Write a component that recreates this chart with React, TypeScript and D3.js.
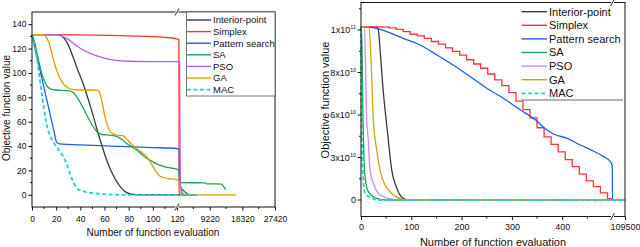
import React, { useEffect, useRef } from 'react';
import * as d3 from 'd3';

const seriesNames = ['Interior-point', 'Simplex', 'Pattern search', 'SA', 'PSO', 'GA', 'MAC'];

// left panel: [number of evaluations, objective value]
const leftInterior = [[0,131.5],[22,131.5],[26,129],[30,123],[34,113],[38,102],[42,92],[46,80],[50,67],[54,53],[58,40],[62,28],[66,18.5],[70,11],[74,5.5],[78,2],[83,0.3],[90,0],[120,0],[5700,0]];
const leftSimplex = [[0,131.5],[40,131.2],[80,130.4],[110,129.2],[120,128],[650,127.3],[720,2],[1000,0.4],[5700,0]];
const leftPattern = [[0,131.5],[3,118],[6,105],[9,92],[12,79],[15,66],[18,53],[20.5,43],[23,41.8],[40,41],[60,40.2],[80,39.5],[100,38.8],[120,38],[700,37],[900,8],[1300,5.5],[2300,2.5],[3600,0],[5700,0]];
const leftSA = [[0,131.5],[2,126],[4,117],[6,108],[8,100],[10,94],[12,90],[15,87],[20,86],[30,85.5],[34,84],[38,79],[42,72],[46,64],[50,57],[54,51.5],[58,49.5],[64,49],[70,48],[75,45],[80,41],[85,38],[90,34],[95,30],[100,27],[105,24.5],[110,23],[115,22],[120,21],[600,19.5],[800,10],[8000,9.8],[8300,9],[12500,8.8],[12900,7.5],[13700,4.2]];
const leftPSO = [[0,131.5],[20,131.5],[24,130.5],[30,127.5],[36,123],[42,119],[48,116],[55,113.5],[62,111.5],[70,110.3],[80,109.6],[100,109.3],[120,109.2],[850,109],[950,50],[1100,8],[1600,1.5],[2600,0],[5700,0]];
const leftGA = [[0,131.5],[10,131.5],[12,129],[14,125],[16,118],[18,110],[22,98],[26,91],[29,88.5],[33,86.5],[40,86],[50,86],[55,85.5],[56,84],[58,76],[60,66],[62,58],[64,53],[67,50],[70,49],[75,48.5],[79,45],[84,40],[88,37],[92,34],[96,30],[99,25],[102,20],[105,16],[109,14],[115,13],[120,12.5],[700,11],[1000,2],[2000,0.3],[3000,0],[16600,0]];
const leftMAC = [[0,131.5],[1,128],[2.5,121],[4,112],[5.5,102],[7,91],[8.5,80],[10,70],[11.5,61],[13,54],[15,48.5],[19,41],[22,37],[26,31],[28,27],[30,22],[32,16],[34,11],[36,7],[38,4.5],[42,3],[50,1.5],[60,0.6],[75,0],[120,0],[6200,0]];

const leftXTicks = [0, 20, 40, 60, 80, 100, 120, 9220, 18320, 27420];
const leftXMinor = [10, 30, 50, 70, 90, 110, 4670, 13770, 22870];
const leftYTicks = [0, 20, 40, 60, 80, 100, 120, 140];
const leftYMinor = [10, 30, 50, 70, 90, 110, 130];

// right panel
const rightInterior = [[0,1.015e11],[31,1.015e11],[34.5,1.0e11],[38,9.06e10],[44,7.18e10],[50,5.65e10],[54.3,4.24e10],[61,2.12e10],[71,8.5e9],[84,1.2e9],[97,0],[109500,0]];
const rightSimplex = [[0,1.015e11],[28,1.015e11],[42,1.014e11],[56,1.010e11],[70,1.003e11],[84,9.92e10],[98,9.80e10],[112,9.72e10],[126,9.61e10],[140,9.46e10],[154,9.34e10],[168,9.16e10],[182,8.99e10],[196,8.82e10],[210,8.60e10],[224,8.40e10],[238,8.20e10],[252,7.93e10],[266,7.65e10],[280,7.38e10],[294,7.05e10],[308,6.65e10],[322,6.25e10],[336,5.8e10],[350,5.1e10],[364,4.45e10],[378,3.92e10],[392,3.40e10],[406,2.85e10],[420,2.35e10],[434,1.82e10],[448,1.35e10],[462,0.94e10],[476,0.50e10],[490,0.10e10],[500,0],[109500,0]];
const rightPattern = [[0,1.015e11],[31,1.008e11],[51,9.92e10],[84,9.61e10],[117.5,9.294e10],[151,8.824e10],[183,8.353e10],[217.5,7.802e10],[250,7.256e10],[283,6.786e10],[317,6.235e10],[349.6,5.577e10],[367,5.01e10],[382.5,4.66e10],[410,4.355e10],[436,3.88e10],[462,3.46e10],[482,3.06e10],[496,2.70e10],[499.5,2.4e10],[500,0],[109500,0]];
const rightSA = [[0,1.015e11],[1,1.015e11],[4,5.65e10],[6,2.82e10],[8,1.645e10],[14.5,5.86e9],[31,1.2e9],[51,0],[109500,0]];
const rightPSO = [[0,1.015e11],[7,1.015e11],[11.3,5.65e10],[14.5,4.24e10],[17.9,2.12e10],[24.5,1.2e10],[37.8,3.53e9],[64.3,5e8],[88,0],[109500,0]];
const rightGA = [[0,1.015e11],[16,1.015e11],[20,8.59e10],[24.5,5.65e10],[31.2,3.53e10],[41.2,1.645e10],[57.7,5.86e9],[84.2,5e8],[107.5,0],[109500,0]];
const rightMAC = [[0,1.015e11],[1.2,5.65e10],[4,1.76e10],[8,4.7e9],[17.9,1.9e9],[34.4,0],[109500,0]];

const rightXTicks = [0, 100, 200, 300, 400, 109500];
const rightXMinor = [50, 150, 250, 350, 450];
const rightYTicks = [0, 3e10, 6e10, 8e10, 1e11];
const rightYLabels = [['0', ''], ['3x10', '10'], ['6x10', '10'], ['8x10', '10'], ['1x10', '11']];
const rightYMinor = [1.5e10, 4.5e10, 7e10, 9e10, 1.1e11];

const leftColors = ['#3a3a3a', '#ff3333', '#1c5fe8', '#1ea552', '#b05ee8', '#dea000', '#22d0cc'];
const rightColors = ['#3a3a3a', '#ff3333', '#1c5fe8', '#1ea552', '#c38ef0', '#d4a012', '#22d0cc'];
const FONT = 'Arial, "Liberation Sans", sans-serif';

const App = () => {
  const svgRef = useRef<SVGSVGElement>(null);

  useEffect(() => {
    const svg = d3.select(svgRef.current);
    svg.selectAll('*').remove();

    const drawPanel = (opts: any) => {
      const { x, y, data, colors, curves, xTicks, xMinor, yMinor, legend } = opts;
      const g = svg.append('g');
      const [x0, x1] = [x.range()[0], x.range()[x.range().length - 1]];
      const [yb, yt] = opts.yFrame;

      data.forEach((d: number[][], i: number) => {
        const line = d3.line<number[]>().x(p => x(p[0])).y(p => y(p[1])).curve(curves[i]);
        g.append('path')
          .attr('d', line(d))
          .attr('fill', 'none')
          .attr('stroke', colors[i])
          .attr('stroke-width', i === 6 ? 1.8 : 1.3)
          .attr('stroke-dasharray', i === 6 ? '4,2.5' : null);
      });

      // frame
      g.append('rect')
        .attr('x', x0).attr('y', yt).attr('width', x1 - x0).attr('height', yb - yt)
        .attr('fill', 'none').attr('stroke', '#111').attr('stroke-width', 1);

      // x axis
      const xa = g.append('g').attr('transform', `translate(0,${yb})`)
        .call(d3.axisBottom(x).tickValues(xTicks).tickSize(3.5).tickPadding(opts.xPad).tickFormat((d: any) => String(d)));
      xa.select('.domain').remove();
      xa.selectAll('text').attr('font-size', opts.tickFont).attr('font-family', FONT).attr('fill', '#111');
      xa.selectAll('line').attr('stroke', '#111');
      g.selectAll(null).data(xMinor).enter().append('line')
        .attr('x1', (d: number) => x(d)).attr('x2', (d: number) => x(d))
        .attr('y1', yb).attr('y2', yb + 2).attr('stroke', '#111');

      // y axis minor
      g.selectAll(null).data(yMinor).enter().append('line')
        .attr('x1', x0).attr('x2', x0 - 2)
        .attr('y1', (d: number) => y(d)).attr('y2', (d: number) => y(d)).attr('stroke', '#111');

      // axis break
      const bx = x(opts.breakAt);
      [yb, yt].forEach(yy => {
        g.append('rect').attr('x', bx - 1.5).attr('y', yy - 1).attr('width', 3).attr('height', 2).attr('fill', '#fff');
        g.append('line').attr('x1', bx - 2).attr('y1', yy + 3.5).attr('x2', bx + 2).attr('y2', yy - 3.5)
          .attr('stroke', '#111').attr('stroke-width', 0.9);
      });

      // titles
      g.append('text').attr('x', opts.xTitle[0]).attr('y', opts.xTitle[1])
        .attr('text-anchor', 'middle').attr('font-size', opts.titleFont).attr('font-family', FONT).attr('fill', '#111')
        .text('Number of function evaluation');
      g.append('text').attr('transform', `translate(${opts.yTitle[0]},${opts.yTitle[1]}) rotate(-90)`)
        .attr('text-anchor', 'middle').attr('font-size', opts.titleFont).attr('font-family', FONT).attr('fill', '#111')
        .text('Objective function value');

      // legend
      const lg = g.append('g');
      if (legend.box) {
        lg.append('rect').attr('x', legend.box[0]).attr('y', legend.box[1]).attr('width', legend.box[2]).attr('height', legend.box[3])
          .attr('fill', '#fff').attr('stroke', '#555').attr('stroke-width', 0.8);
      }
      if (legend.under) {
        lg.append('line').attr('x1', legend.under[0]).attr('x2', legend.under[1]).attr('y1', legend.under[2]).attr('y2', legend.under[2])
          .attr('stroke', '#999').attr('stroke-width', 1.3);
      }
      seriesNames.forEach((name, i) => {
        const yy = legend.y0 + i * legend.dy;
        lg.append('line').attr('x1', legend.x0).attr('x2', legend.x1).attr('y1', yy).attr('y2', yy)
          .attr('stroke', colors[i]).attr('stroke-width', i === 6 ? 1.8 : 1.4)
          .attr('stroke-dasharray', i === 6 ? '4,2.5' : null);
        lg.append('text').attr('x', legend.x1 + 2).attr('y', yy).attr('dy', '0.35em')
          .attr('font-size', legend.font).attr('font-family', FONT).attr('fill', '#111').text(name);
      });
      return g;
    };

    // ---- left panel
    const lx = d3.scaleLinear().domain([0, 120, 27420]).range([32, 177, 275]);
    const ly = d3.scaleLinear().domain([-10, 150]).range([207, 12]);
    const smooth = Array(7).fill(d3.curveMonotoneX);
    const left = drawPanel({
      x: lx, y: ly, yFrame: [207, 12],
      data: [leftInterior, leftSimplex, leftPattern, leftSA, leftPSO, leftGA, leftMAC],
      colors: leftColors, curves: smooth,
      xTicks: leftXTicks, xMinor: leftXMinor, yMinor: leftYMinor,
      breakAt: 120, xPad: 5, tickFont: 8.5, titleFont: 10,
      xTitle: [153, 236], yTitle: [10, 108],
      legend: { box: [186.5, 12, 88.5, 84], x0: 187, x1: 211, y0: 20, dy: 11.6, font: 9.5 },
    });
    const lya = left.append('g').attr('transform', `translate(32,0)`)
      .call(d3.axisLeft(ly).tickValues(leftYTicks).tickSize(3.5).tickPadding(2));
    lya.select('.domain').remove();
    lya.selectAll('text').attr('font-size', 8.5).attr('font-family', FONT).attr('fill', '#111');

    // ---- right panel
    const rx = d3.scaleLinear().domain([0, 500, 109500]).range([361, 612.5, 625]);
    const ry = d3.scaleLinear().domain([0, 3e10, 6e10, 8e10, 1e11]).range([200, 157.5, 115, 72.5, 30]);
    const rcurves = [d3.curveMonotoneX, d3.curveStepAfter, d3.curveMonotoneX, d3.curveMonotoneX, d3.curveMonotoneX, d3.curveMonotoneX, d3.curveMonotoneX];
    const right = drawPanel({
      x: rx, y: ry, yFrame: [216.5, 2.5],
      data: [rightInterior, rightSimplex, rightPattern, rightSA, rightPSO, rightGA, rightMAC],
      colors: rightColors, curves: rcurves,
      xTicks: rightXTicks, xMinor: rightXMinor, yMinor: rightYMinor,
      breakAt: 500, xPad: 4, tickFont: 9, titleFont: 11,
      xTitle: [493, 246], yTitle: [329, 100],
      legend: { under: [521, 623, 100], x0: 521.5, x1: 547, y0: 11.7, dy: 13.6, font: 11 },
    });
    rightYTicks.forEach((v, i) => {
      right.append('line').attr('x1', 361).attr('x2', 357.5).attr('y1', ry(v)).attr('y2', ry(v)).attr('stroke', '#111');
      const t = right.append('text').attr('x', 356).attr('y', ry(v) + 3.2)
        .attr('text-anchor', 'end').attr('font-size', 9).attr('font-family', FONT).attr('fill', '#111');
      t.append('tspan').text(rightYLabels[i][0]);
      if (rightYLabels[i][1]) t.append('tspan').attr('dy', -4).attr('font-size', 5.5).text(rightYLabels[i][1]);
    });
  }, []);

  return (
    <svg ref={svgRef} width={640} height={247} style={{ position: 'absolute', left: 0, top: 0, background: '#fff' }}></svg>
  );
};

export default App;
